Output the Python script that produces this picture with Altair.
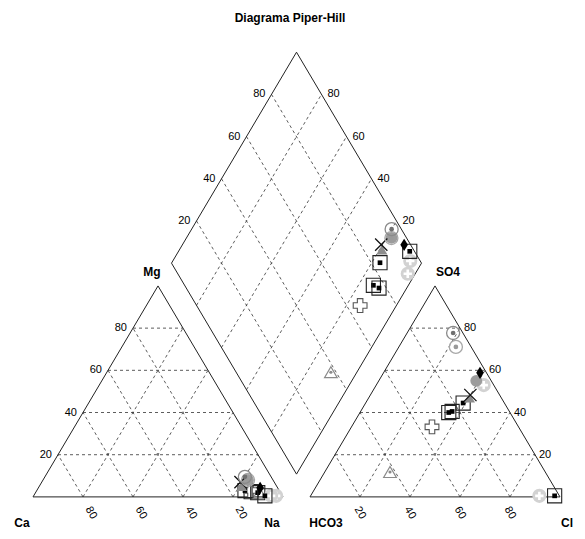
import altair as alt
import pandas as pd
import numpy as np

# ---------------- data (percent of meq) ----------------
sample = ["S1", "S2", "S3", "S4", "S5", "S6", "S7", "S8", "S9", "S10", "S11", "S12", "S13", "S14"]
ca =   [10.5, 10.0, 13.5, 14.0,  7.0, 10.0,  7.0,  4.5,  2.5, 13.7,  9.1, 11.5,  8.4, 11.5]
mg =   [ 9.5,  8.0,  7.0,  5.0,  4.3,  8.0,  0.5,  0.5,  0.5,  3.0,  2.0,  3.0,  2.0,  2.5]
na =   [80.0, 82.0, 79.5, 81.0, 88.7, 82.0, 92.5, 95.0, 97.0, 83.3, 88.9, 85.5, 89.6, 86.0]
hco3 = [ 3.9,  6.1, 11.7, 12.7,  2.6,  6.0,  1.9,  4.0,  8.0, 16.5, 22.9, 34.6, 62.1, 24.5]
so4 =  [77.7, 71.1, 48.3, 47.0, 58.8, 55.0,  0.5, 53.0,  0.5, 44.5, 40.5, 33.2, 11.8, 40.0]
cl =   [18.4, 22.8, 40.0, 40.3, 38.6, 39.0, 97.6, 43.0, 91.5, 39.0, 36.6, 32.2, 26.1, 35.5]
symbol = ["odot", "odot2", "x", "tri", "diam", "gcirc", "sqdot", "oplus", "oplus",
          "sqdot", "sqdot", "plus", "tridot", "sqdot"]

grid_pct = [20, 40, 60, 80]
corner_names = ["Ca", "Na", "Mg", "HCO3", "Cl", "SO4"]

GAP = 10.8
H = np.sqrt(3) / 2


def cat_xy(m, n):
    return n + m / 2.0, m * H


def an_xy(s, c):
    return 100 + GAP + c + s / 2.0, s * H


def dia_xy(n, cs):
    return (n + 100 + GAP + cs) / 2.0, (100 + GAP + cs - n) * H


# ---------------- geometry ----------------
outline, grid = [], []


def seg(lst, a, b):
    lst.append({"x": a[0], "y": a[1], "x2": b[0], "y2": b[1]})


seg(outline, cat_xy(0, 0), cat_xy(0, 100))
seg(outline, cat_xy(0, 100), cat_xy(100, 0))
seg(outline, cat_xy(100, 0), cat_xy(0, 0))
seg(outline, an_xy(0, 0), an_xy(0, 100))
seg(outline, an_xy(0, 100), an_xy(100, 0))
seg(outline, an_xy(100, 0), an_xy(0, 0))
seg(outline, dia_xy(100, 0), dia_xy(0, 0))
seg(outline, dia_xy(0, 0), dia_xy(0, 100))
seg(outline, dia_xy(0, 100), dia_xy(100, 100))
seg(outline, dia_xy(100, 100), dia_xy(100, 0))

for p in grid_pct:
    seg(grid, cat_xy(p, 0), cat_xy(p, 100 - p))
    seg(grid, cat_xy(0, 100 - p), cat_xy(100 - p, 0))
    seg(grid, cat_xy(0, p), cat_xy(100 - p, p))
    seg(grid, an_xy(p, 0), an_xy(p, 100 - p))
    seg(grid, an_xy(0, 100 - p), an_xy(100 - p, 0))
    seg(grid, an_xy(0, p), an_xy(100 - p, p))
    seg(grid, dia_xy(p, 0), dia_xy(p, 100))
    seg(grid, dia_xy(0, p), dia_xy(100, p))

outline_df = pd.DataFrame(outline)
grid_df = pd.DataFrame(grid)

rows = []
for i in range(len(sample)):
    for (x, y) in (cat_xy(mg[i], na[i]), an_xy(so4[i], cl[i]), dia_xy(na[i], so4[i] + cl[i])):
        rows.append({"sample": sample[i], "sym": symbol[i], "x": x, "y": y})
pts = pd.DataFrame(rows)

# ---------------- scales ----------------
XS = alt.Scale(domain=[-10, 217.6], nice=False, zero=False)
YS = alt.Scale(domain=[-14.0, 200.7], nice=False, zero=False)
FONT = "Liberation Sans"


def enc(ch):
    return ch.encode(
        x=alt.X("x:Q", scale=XS, axis=None),
        y=alt.Y("y:Q", scale=YS, axis=None),
    )


grid_layer = alt.Chart(grid_df).mark_rule(
    color="#333333", strokeWidth=0.8, strokeDash=[3, 3]
).encode(
    x=alt.X("x:Q", scale=XS, axis=None), y=alt.Y("y:Q", scale=YS, axis=None),
    x2="x2:Q", y2="y2:Q",
)
outline_layer = alt.Chart(outline_df).mark_rule(
    color="#222222", strokeWidth=1
).encode(
    x=alt.X("x:Q", scale=XS, axis=None), y=alt.Y("y:Q", scale=YS, axis=None),
    x2="x2:Q", y2="y2:Q",
)

X_PATH = "M-1,-1L1,1M-1,1L1,-1"
PLUS_PATH = "M-1,0L1,0M0,-1L0,1"
DIAM_PATH = "M0,-1L0.62,0L0,1L-0.62,0Z"

sym_specs = {
    "odot": [dict(shape="circle", filled=False, stroke="#8a8a8a", strokeWidth=1.3, size=170),
             dict(shape="circle", filled=True, fill="#707070", strokeWidth=0, size=22)],
    "odot2": [dict(shape="circle", filled=False, stroke="#a8a8a8", strokeWidth=1.3, size=170),
              dict(shape="circle", filled=True, fill="#9a9a9a", strokeWidth=0, size=22)],
    "x": [dict(shape=X_PATH, filled=False, stroke="#111111", strokeWidth=1.3, size=150)],
    "tri": [dict(shape="triangle-up", filled=True, fill="#8c8c8c", strokeWidth=0, size=120)],
    "diam": [dict(shape=DIAM_PATH, filled=True, fill="#000000", strokeWidth=0, size=150)],
    "gcirc": [dict(shape="circle", filled=True, fill="#9c9c9c", strokeWidth=0, size=140)],
    "sqdot": [dict(shape="square", filled=False, stroke="#222222", strokeWidth=1.1, size=200),
              dict(shape="square", filled=True, fill="#000000", strokeWidth=0, size=22)],
    "oplus": [dict(shape="circle", filled=True, fill="#d2d2d2", strokeWidth=0, size=200),
              dict(shape=PLUS_PATH, filled=False, stroke="#ffffff", strokeWidth=2.6, size=70)],
    "plus": [dict(shape="cross", filled=True, fill="#ffffff", stroke="#555555", strokeWidth=1.1, size=190)],
    "tridot": [dict(shape="triangle-up", filled=False, stroke="#8a8a8a", strokeWidth=1.2, size=160),
               dict(shape="circle", filled=True, fill="#8a8a8a", strokeWidth=0, size=10)],
}

point_layers = []
for i in reversed(range(len(sample))):
    s = sample[i]
    sub = pts[pts["sample"] == s]
    for spec in sym_specs[symbol[i]]:
        point_layers.append(enc(alt.Chart(sub).mark_point(opacity=1, **spec)))

# ---------------- text ----------------
corner_pos = [cat_xy(0, 0), cat_xy(0, 100), cat_xy(100, 0), an_xy(0, 0), an_xy(0, 100), an_xy(100, 0)]
corner_df = pd.DataFrame({
    "label": corner_names,
    "x": [p[0] for p in corner_pos],
    "y": [p[1] for p in corner_pos],
})
corner_off = {"Ca": (-11, 26), "Na": (-11, 26), "Mg": (-6, -14), "HCO3": (16, 26), "Cl": (7, 26), "SO4": (13, -14)}
corner_layers = []
for _, r in corner_df.iterrows():
    dx, dy = corner_off[r["label"]]
    corner_layers.append(enc(alt.Chart(pd.DataFrame([r])).mark_text(
        font=FONT, fontSize=12, fontWeight="bold", color="#000000", dx=dx, dy=dy,
        align="center", baseline="middle").encode(text="label:N")))

lab_rows = []
for p in grid_pct:
    x, y = cat_xy(0, p)
    lab_rows.append({"x": x, "y": y, "t": str(100 - p), "grp": "cbase"})
    x, y = an_xy(0, p)
    lab_rows.append({"x": x, "y": y, "t": str(p), "grp": "abase"})
    x, y = cat_xy(p, 0)
    lab_rows.append({"x": x, "y": y, "t": str(p), "grp": "cside"})
    x, y = an_xy(p, 100 - p)
    lab_rows.append({"x": x, "y": y, "t": str(p), "grp": "aside"})
    x, y = dia_xy(0, p)
    lab_rows.append({"x": x, "y": y, "t": str(p), "grp": "dleft"})
    x, y = dia_xy(100 - p, 100)
    lab_rows.append({"x": x, "y": y, "t": str(p), "grp": "dright"})
lab_df = pd.DataFrame(lab_rows)

# rotated labels: dx/dy act in the rotated frame (60 deg clockwise)
C60, S60 = 0.5, np.sqrt(3) / 2


def rot_off(ox, oy):
    return ox * C60 + oy * S60, -ox * S60 + oy * C60


cb_dx, cb_dy = rot_off(8, 16)
ab_dx, ab_dy = rot_off(0, 16)

lab_style = {
    "cbase": dict(dx=cb_dx, dy=cb_dy, angle=60, align="center"),
    "abase": dict(dx=ab_dx, dy=ab_dy, angle=60, align="center"),
    "cside": dict(dx=-6, dy=0, angle=0, align="right"),
    "aside": dict(dx=4, dy=0, angle=0, align="left"),
    "dleft": dict(dx=-6, dy=0, angle=0, align="right"),
    "dright": dict(dx=6, dy=0, angle=0, align="left"),
}
lab_layers = []
for g, st in lab_style.items():
    lab_layers.append(enc(alt.Chart(lab_df[lab_df["grp"] == g]).mark_text(
        font=FONT, fontSize=11, color="#000000", baseline="middle", **st).encode(text="t:N")))

title_layer = alt.Chart(pd.DataFrame({"t": ["Diagrama Piper-Hill"]})).mark_text(
    font=FONT, fontSize=12, fontWeight="bold", color="#000000", align="center", baseline="middle"
).encode(x=alt.value(282), y=alt.value(10), text="t:N")

chart = alt.layer(
    grid_layer, outline_layer, *lab_layers, *corner_layers, *point_layers, title_layer
).properties(
    width=569, height=523, padding=0, autosize=alt.AutoSizeParams(type="none")
).configure_view(stroke=None)

chart.save("out.html", embed_options={"renderer": "svg", "actions": False})
